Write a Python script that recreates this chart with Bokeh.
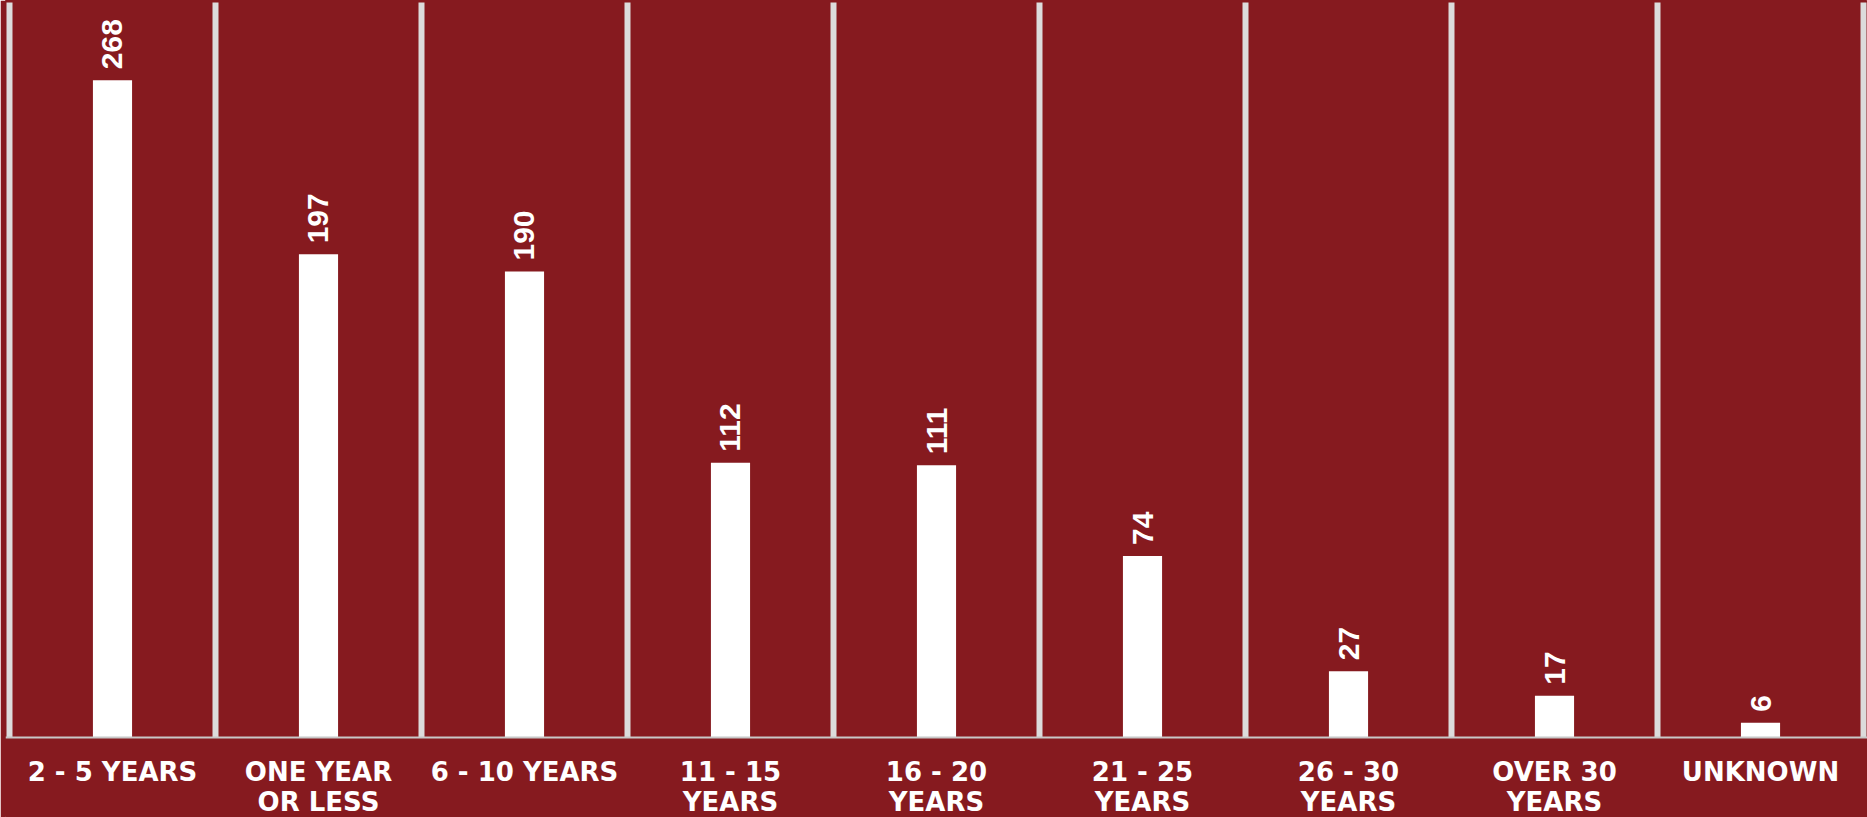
import math
from bokeh.plotting import figure
from bokeh.models import Range1d, FactorRange, ColumnDataSource, Span
from bokeh.core.properties import value
from bokeh.embed import file_html
from bokeh.resources import INLINE

# ---- data ----
categories = ["2 - 5 YEARS", "ONE YEAR OR LESS", "6 - 10 YEARS", "11 - 15 YEARS",
              "16 - 20 YEARS", "21 - 25 YEARS", "26 - 30 YEARS", "OVER 30 YEARS", "UNKNOWN"]
tick_labels = ["2 - 5 YEARS", "ONE YEAR\nOR LESS", "6 - 10 YEARS", "11 - 15\nYEARS",
               "16 - 20\nYEARS", "21 - 25\nYEARS", "26 - 30\nYEARS", "OVER 30\nYEARS", "UNKNOWN"]
counts = [268, 197, 190, 112, 111, 74, 27, 17, 6]

# ---- layout ----
W, H = 1867, 817
BASE_PX = 737          # pixel row of the baseline
Y_TOP = 300.5          # value at the top of the frame
px_per_unit = BASE_PX / Y_TOP
Y_BOTTOM = -(H - BASE_PX) / px_per_unit
SEP_TOP = Y_TOP - 2 / px_per_unit
CAT_PX = 206.3                      # approx pixel width of one category
PAD = 4 / CAT_PX                    # side padding in factor units
N = len(categories)

BG = "#861A1F"
SEP = "#DCDCDC"

p = figure(width=W, height=H, output_backend="svg", toolbar_location=None,
           x_range=FactorRange(factors=categories, range_padding=2 * PAD / N,
                               factor_padding=0),
           y_range=Range1d(Y_BOTTOM, Y_TOP),
           min_border_left=5, min_border_right=0, min_border_top=0, min_border_bottom=0)
p.axis.visible = False
p.grid.visible = False
p.outline_line_color = BG
p.outline_line_alpha = 1
p.outline_line_width = 1
p.background_fill_color = BG
p.border_fill_color = BG

src = ColumnDataSource(dict(cat=categories, val=counts, lab=[str(c) for c in counts],
                            tick=tick_labels))

# bars
p.vbar(x="cat", top="val", bottom=0, width=0.19, source=src,
       fill_color="white", line_color=None)

# separators between categories
sep_x = list(range(N + 1))
p.segment(x0=sep_x, y0=[0] * len(sep_x), x1=sep_x, y1=[SEP_TOP] * len(sep_x),
          line_color=SEP, line_width=6)

# baseline
p.add_layout(Span(location=0, dimension="width", line_color="#C8C8C8", line_width=2))

# value labels (rotated)
p.text(x="cat", y="val", text="lab", source=src, angle=math.pi / 2,
       text_align="left", text_baseline="middle", y_offset=-11,
       text_color="white", text_font=value("Liberation Sans"),
       text_font_style="bold", text_font_size="30px")

# category labels
p.text(x="cat", y=0, text="tick", source=src, text_align="center",
       text_baseline="top", y_offset=19, text_line_height=1.0,
       text_color="white", text_font=value("DejaVu Sans"),
       text_font_style="bold", text_font_size="26px")

open("out.html", "w").write(file_html(p, INLINE))
